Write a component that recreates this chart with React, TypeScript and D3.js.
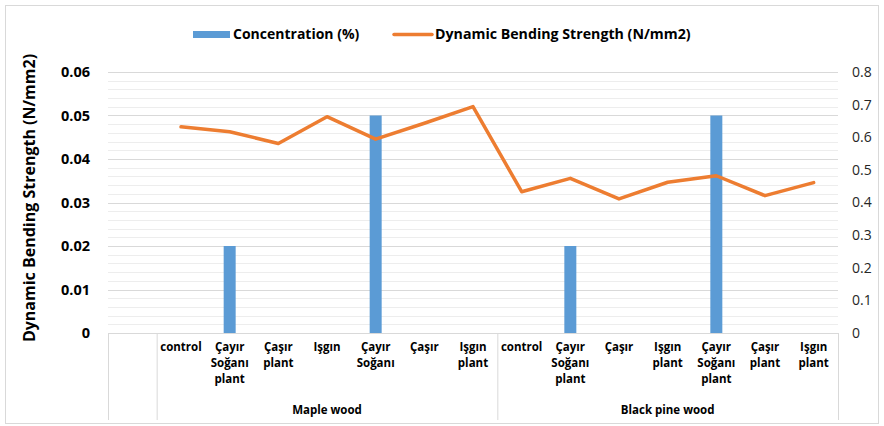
import React from "react";
import * as d3 from "d3";

const categories: string[] = [
  "",
  "control", "Çayır\nSoğanı\nplant", "Çaşır\nplant", "Işgın", "Çayır\nSoğanı", "Çaşır", "Işgın\nplant",
  "control", "Çayır\nSoğanı\nplant", "Çaşır", "Işgın\nplant", "Çayır\nSoğanı\nplant", "Çaşır\nplant", "Işgın\nplant",
];
const groups: { name: string; start: number; end: number }[] = [
  { name: "", start: 0, end: 1 },
  { name: "Maple wood", start: 1, end: 8 },
  { name: "Black pine wood", start: 8, end: 15 },
];
const concentration: (number | null)[] = [
  null, null, 0.02, null, null, 0.05, null, null,
  null, 0.02, null, null, 0.05, null, null,
];
const strength: (number | null)[] = [
  null, 0.632, 0.617, 0.581, 0.663, 0.594, 0.643, 0.694,
  0.433, 0.474, 0.411, 0.462, 0.482, 0.421, 0.461,
];
const leftTicks = [0, 0.01, 0.02, 0.03, 0.04, 0.05, 0.06];
const rightTicks = [0, 0.1, 0.2, 0.3, 0.4, 0.5, 0.6, 0.7, 0.8];

const FONT = "'Open Sans', sans-serif";

export default function App() {
  const W = 884, H = 426;
  const left = 108, right = 838, top = 72, bottom = 333;
  const x = d3.scaleBand<number>().domain(d3.range(categories.length)).range([left, right]).padding(0);
  const yL = d3.scaleLinear().domain([0, 0.06]).range([bottom, top]);
  const yR = d3.scaleLinear().domain([0, 0.8]).range([bottom, top]);
  const minor = d3.range(0, 0.0601, 0.002);
  const barW = 12;
  const line = d3
    .line<[number, number | null]>()
    .defined((d) => d[1] != null)
    .x((d) => (x(d[0]) as number) + x.bandwidth() / 2)
    .y((d) => yR(d[1] as number));
  const linePts: [number, number | null][] = strength.map((v, i) => [i, v]);
  const axisBottom = 420;

  return (
    <svg width={W} height={H} style={{ display: "block", position: "absolute", left: 0, top: 0 }} fontFamily={FONT}>
      <rect x={0} y={0} width={W} height={H} fill="#fff" />
      <rect x={5.5} y={5.5} width={873} height={418} fill="none" stroke="#D9D9D9" />
      {minor.map((v, i) => (
        <line key={"m" + i} x1={left} x2={right} y1={Math.round(yL(v)) + 0.5} y2={Math.round(yL(v)) + 0.5} stroke="#EDEDED" strokeWidth={1} />
      ))}
      {leftTicks.map((v, i) => (
        <line key={"g" + i} x1={left} x2={right} y1={Math.round(yL(v)) + 0.5} y2={Math.round(yL(v)) + 0.5} stroke="#D9D9D9" strokeWidth={1.2} />
      ))}
      <line x1={left} x2={right} y1={bottom + 0.5} y2={bottom + 0.5} stroke="#D9D9D9" />
      {[0, 1, 8, 15].map((b, i) => {
        const xx = b === 15 ? right : (x(b) as number);
        return <line key={"v" + i} x1={xx + 0.5} x2={xx + 0.5} y1={bottom} y2={axisBottom} stroke="#D9D9D9" />;
      })}
      {concentration.map((v, i) =>
        v == null ? null : (
          <rect key={"b" + i} x={(x(i) as number) + x.bandwidth() / 2 - barW / 2} y={yL(v)} width={barW} height={bottom - yL(v)} fill="#5B9BD5" />
        )
      )}
      <path d={line(linePts) || ""} fill="none" stroke="#ED7D31" strokeWidth={3.5} strokeLinejoin="round" strokeLinecap="round" />
      {leftTicks.map((v, i) => (
        <text key={"lt" + i} x={90} y={yL(v)} dy="0.35em" textAnchor="end" fontSize={14.5} fontWeight="bold" fill="#000">
          {v === 0 ? "0" : v.toFixed(2)}
        </text>
      ))}
      {rightTicks.map((v, i) => (
        <text key={"rt" + i} x={852} y={yR(v)} dy="0.35em" textAnchor="start" fontSize={14} fill="#262626">
          {v === 0 ? "0" : v.toFixed(1)}
        </text>
      ))}
      <text transform={`translate(35,198) rotate(-90)`} textAnchor="middle" fontSize={16} fontWeight="bold" fill="#000">
        Dynamic Bending Strength (N/mm2)
      </text>
      {categories.map((c, i) => (
        <text key={"c" + i} textAnchor="middle" fontSize={11.5} fontWeight="bold" fill="#000">
          {c.split("\n").map((ln, j) => (
            <tspan key={j} x={(x(i) as number) + x.bandwidth() / 2} y={351 + j * 16}>
              {ln}
            </tspan>
          ))}
        </text>
      ))}
      {groups.map((g, i) => {
        const x0 = x(g.start) as number;
        const x1 = g.end >= categories.length ? right : (x(g.end) as number);
        return (
          <text key={"gr" + i} x={(x0 + x1) / 2} y={414} textAnchor="middle" fontSize={11.5} fontWeight="bold" fill="#000">
            {g.name}
          </text>
        );
      })}
      <rect x={193} y={31} width={37} height={7} fill="#5B9BD5" />
      <text x={233} y={34} dy="0.35em" fontSize={14} fontWeight="bold" fill="#000">Concentration (%)</text>
      <line x1={394} x2={432} y1={34.5} y2={34.5} stroke="#ED7D31" strokeWidth={3.5} strokeLinecap="round" />
      <text x={435} y={34} dy="0.35em" fontSize={14.2} fontWeight="bold" fill="#000">Dynamic Bending Strength (N/mm2)</text>
    </svg>
  );
}
